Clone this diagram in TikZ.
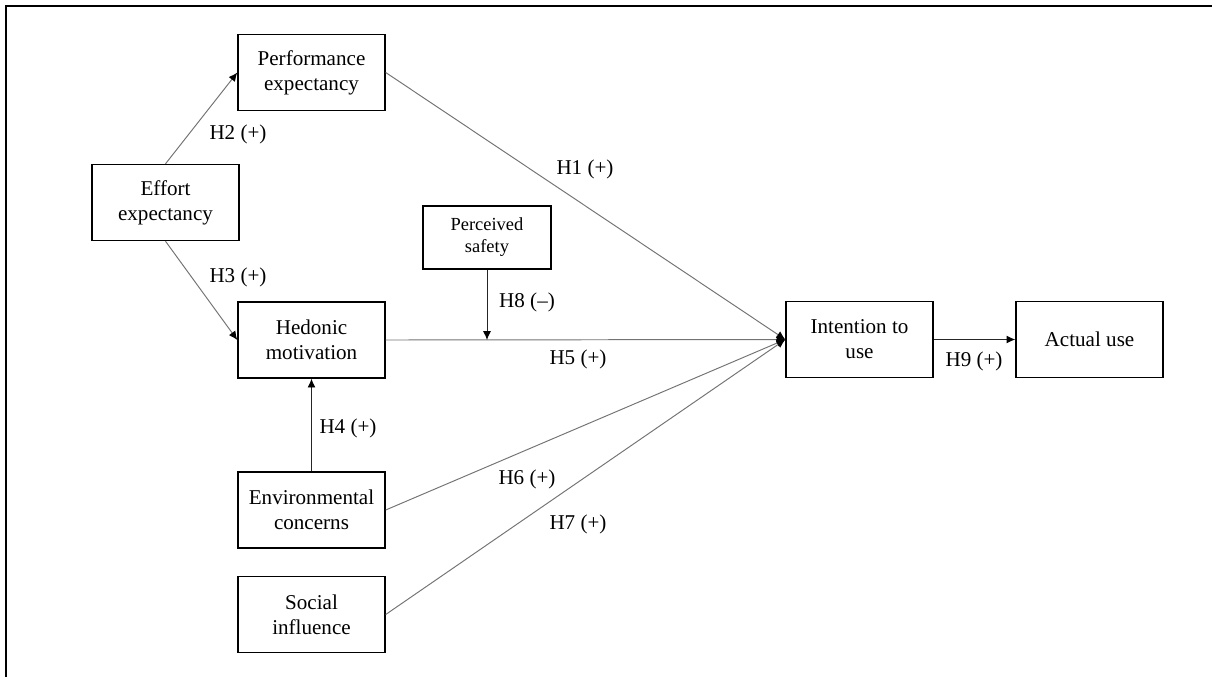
\documentclass[tikz,border=0pt]{standalone}
\usepackage{fontspec}
\setmainfont{Liberation Serif}
\usetikzlibrary{arrows.meta}

\begin{document}
\begin{tikzpicture}[x=0.02cm, y=-0.02cm,
  box/.style={draw, line width=0.8pt, minimum width=2.94cm, minimum height=1.52cm,
    align=center, inner sep=2pt, font=\fontsize{12}{14.2}\selectfont},
  smallbox/.style={box, minimum width=2.56cm, minimum height=1.26cm,
    font=\fontsize{10.5}{12.5}\selectfont},
  hyp/.style={inner sep=0pt, font=\fontsize{12}{14}\selectfont},
  link/.style={draw=black!55, line width=0.55pt, -{Latex[length=5pt,width=4.5pt,color=black]}},
  darklink/.style={link, draw=black!85}]

\useasboundingbox (0,0) rectangle (1212,677);

% Frame
\draw[line width=1.1pt] (6,677) -- (6,6) -- (1212,6);

% Constructs
\node[box] (perf) at (311.5,72.5) {Performance\\expectancy};
\node[box] (effort) at (165.5,202.5) {Effort\\expectancy};
\node[box] (hedonic) at (311.5,340) {Hedonic\\motivation};
\node[smallbox] (safety) at (487,237.5) {Perceived\\safety};
\node[box] (env) at (311.5,510) {Environmental\\concerns};
\node[box] (social) at (311.5,614.5) {Social\\influence};
\node[box] (intent) at (859.5,339.5) {Intention to\\use};
\node[box] (actual) at (1089.5,339.5) {Actual use};

% Moderation point on H5
\coordinate (mod) at (safety.south |- hedonic.east);

% Paths
\draw[link] (effort.north) -- (perf.west);
\draw[link] (effort.south) -- (hedonic.west);
\draw[link] (perf.east) -- (intent.west);
\draw[link] (hedonic.east) -- (intent.west);
\draw[link] (env.east) -- (intent.west);
\draw[link] (social.east) -- (intent.west);
\draw[darklink] (env.north) -- (hedonic.south);
\draw[darklink] (safety.south) -- (mod);
\draw[darklink] (intent.east) -- (actual.west);

% Hypotheses
\node[hyp] (h1) at (585,169) {H1 (+)};
\node[hyp] (h2) at (238,134) {H2 (+)};
\node[hyp] (h3) at (238,277) {H3 (+)};
\node[hyp] (h4) at (348,428) {H4 (+)};
\node[hyp] (h5) at (578,359) {H5 (+)};
\node[hyp] (h6) at (527,479) {H6 (+)};
\node[hyp] (h7) at (578,524) {H7 (+)};
\node[hyp] (h8) at (527,302) {H8 (\textendash)};
\node[hyp] (h9) at (974,361) {H9 (+)};

\end{tikzpicture}
\end{document}
